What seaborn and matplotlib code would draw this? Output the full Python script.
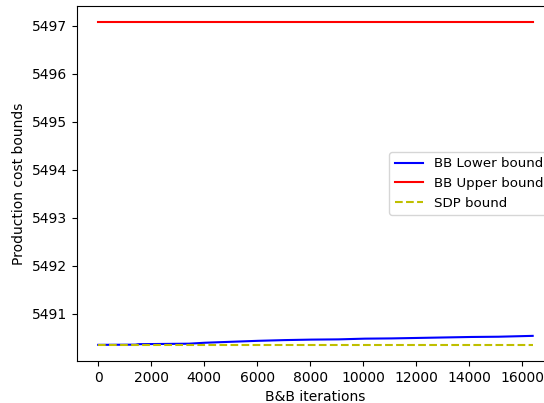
import matplotlib
matplotlib.use("Agg")
import matplotlib.pyplot as plt
import seaborn as sns
import numpy as np

iterations = [0, 1410, 1510, 3420, 4030, 5030, 6040, 7050, 8050, 9060,
              10070, 11070, 12080, 13080, 14090, 15100, 16400]
lower_bound = [5490.356, 5490.36, 5490.37, 5490.38, 5490.40, 5490.42, 5490.44,
               5490.455, 5490.465, 5490.47, 5490.485, 5490.49, 5490.50,
               5490.51, 5490.52, 5490.525, 5490.543]
upper_value = 5497.077
sdp_value = 5490.356
upper_bound = [upper_value] * len(iterations)
sdp_bound = [sdp_value] * len(iterations)

fig = plt.figure(figsize=(5.44, 4.03), dpi=100)
ax = fig.add_axes([76.5 / 544, 42 / 403, 477.9 / 544, 355.3 / 403])

sns.lineplot(x=iterations, y=lower_bound, ax=ax, color="b", label="BB Lower bound")
sns.lineplot(x=iterations, y=upper_bound, ax=ax, color="r", label="BB Upper bound")
sns.lineplot(x=iterations, y=sdp_bound, ax=ax, color="y", linestyle="--", label="SDP bound")

ax.set_xlabel("B&B iterations")
ax.set_ylabel("Production cost bounds")
ax.set_xticks(np.arange(0, 16001, 2000))
ax.legend(loc="center left", borderaxespad=0, fontsize=9.6,
          handlelength=2.1, handletextpad=0.85,
          bbox_to_anchor=((389.3 - 76.5) / 477.9, 0.5))

fig.savefig("out.png", dpi=100)
